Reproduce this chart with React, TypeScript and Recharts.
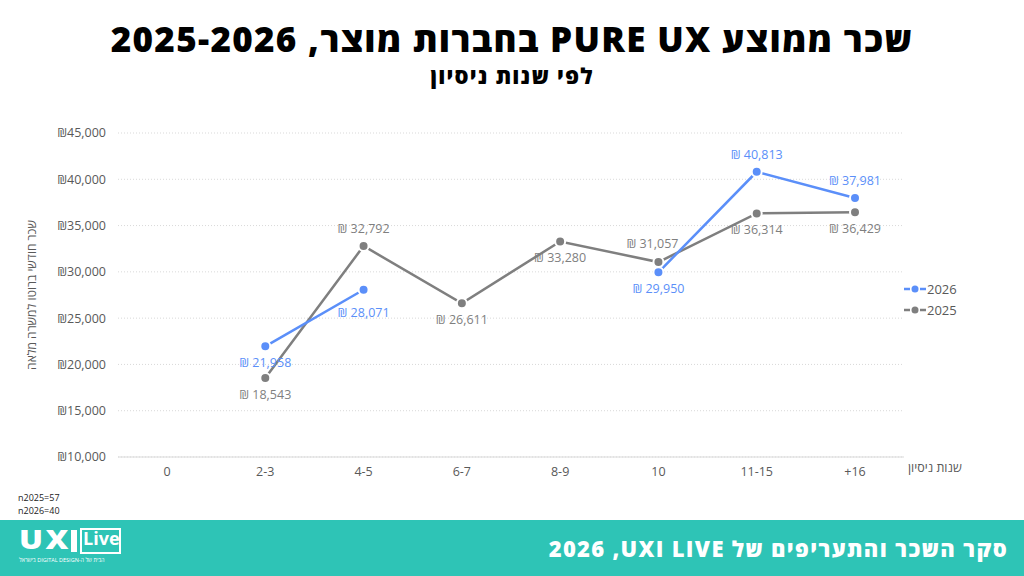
import React from "react";
import { LineChart, Line, XAxis, YAxis, CartesianGrid, Label } from "recharts";

const CATEGORIES = ["0", "2-3", "4-5", "6-7", "8-9", "10", "11-15", "+16"];
const SALARY_2026 = [null, 21958, 28071, null, null, 29950, 40813, 37981];
const SALARY_2025 = [null, 18543, 32792, 26611, 33280, 31057, 36314, 36429];
const Y_TICKS = [10000, 15000, 20000, 25000, 30000, 35000, 40000, 45000];
const SAMPLE_SIZES = ["n2025=57", "n2026=40"];

// where each value label sits relative to its point
const PLACE_2026 = ["", "below", "belowFar", "", "", "below", "above", "above"];
const PLACE_2025 = ["", "below", "above", "below", "below", "aboveLeft", "below", "below"];

const BLUE = "#5b8ff9";
const GRAY = "#7f7f7f";
const TEXT = "#595959";
const FONT = "'Open Sans', 'DejaVu Sans', sans-serif";

const OFFSETS: Record<string, [number, number]> = {
  below: [0, 21],
  belowFar: [0, 27],
  above: [0, -13],
  aboveLeft: [-6, -14],
};

const data = CATEGORIES.map((c, i) => ({
  cat: c,
  y2026: SALARY_2026[i],
  y2025: SALARY_2025[i],
}));

const fmtShekel = (v: number) => `₪ ${v.toLocaleString("en-US")}`;

const makeLabel = (places: string[], color: string) => (props: any) => {
  const { x, y, value, index } = props;
  if (value == null) return null;
  const [dx, dy] = OFFSETS[places[index]] || [0, -13];
  return (
    <text
      x={x + dx}
      y={y + dy}
      textAnchor="middle"
      fill={color}
      fontSize={12.5}
      fontFamily={FONT}
    >
      {fmtShekel(value)}
    </text>
  );
};

const LegendRow = ({ color, name }: { color: string; name: string }) => (
  <div style={{ display: "flex", alignItems: "center", height: 21 }}>
    <svg width={22} height={10}>
      <line x1={0} y1={5} x2={6} y2={5} stroke={color} strokeWidth={2.5} />
      <circle cx={11} cy={5} r={3.5} fill={color} />
      <line x1={16} y1={5} x2={22} y2={5} stroke={color} strokeWidth={2.5} />
    </svg>
    <span style={{ color: TEXT, fontSize: 13, marginLeft: 1 }}>{name}</span>
  </div>
);

export default function App() {
  return (
    <div
      style={{
        position: "absolute",
        left: 0,
        top: 0,
        width: 1024,
        height: 576,
        background: "#fff",
        fontFamily: FONT,
        overflow: "hidden",
      }}
    >
      <div
        dir="rtl"
        style={{
          position: "absolute",
          top: 15,
          width: 1024,
          textAlign: "center",
          fontSize: 35,
          fontWeight: 900,
          letterSpacing: 1.3,
          color: "#000",
          lineHeight: "48px",
        }}
      >
        שכר ממוצע PURE UX בחברות מוצר, 2025-2026
      </div>
      <div
        dir="rtl"
        style={{
          position: "absolute",
          top: 60,
          width: 1024,
          textAlign: "center",
          fontSize: 22,
          fontWeight: 800,
          letterSpacing: 1.2,
          color: "#000",
          lineHeight: "30px",
        }}
      >
        לפי שנות ניסיון
      </div>

      <div style={{ position: "absolute", left: 0, top: 0 }}>
        <LineChart
          width={1024}
          height={576}
          data={data}
          margin={{ top: 133, right: 120, bottom: 89, left: 0 }}
        >
          <CartesianGrid
            vertical={false}
            stroke="#d9d9d9"
            strokeDasharray="1 2"
          />
          <XAxis
            dataKey="cat"
            height={30}
            padding={{ left: 49, right: 49 }}
            tickLine={false}
            stroke="#d9d9d9"
            tick={{ fill: TEXT, fontSize: 12.5, fontFamily: FONT }}
            tickMargin={4}
          />
          <YAxis
            width={118}
            domain={[10000, 45000]}
            ticks={Y_TICKS}
            axisLine={false}
            tickLine={false}
            tickMargin={6}
            tickFormatter={(v: number) => `₪${v.toLocaleString("en-US")}`}
            tick={{ fill: TEXT, fontSize: 12.5, fontFamily: FONT }}
          >
            <Label
              value="שכר חודשי ברוטו למשרה מלאה"
              angle={-90}
              position="insideLeft"
              offset={32}
              style={{ fill: TEXT, fontSize: 12, fontFamily: FONT, textAnchor: "middle" }}
            />
          </YAxis>
          <Line
            dataKey="y2025"
            stroke={GRAY}
            strokeWidth={2.5}
            dot={{ r: 5, fill: GRAY, stroke: "#fff", strokeWidth: 2 }}
            activeDot={false}
            label={makeLabel(PLACE_2025, GRAY)}
            isAnimationActive={false}
          />
          <Line
            dataKey="y2026"
            stroke={BLUE}
            strokeWidth={2.5}
            dot={{ r: 5, fill: BLUE, stroke: "#fff", strokeWidth: 2 }}
            activeDot={false}
            label={makeLabel(PLACE_2026, BLUE)}
            isAnimationActive={false}
          />
        </LineChart>
      </div>

      <div
        dir="rtl"
        style={{
          position: "absolute",
          left: 908,
          top: 459,
          fontSize: 12.5,
          color: TEXT,
        }}
      >
        שנות ניסיון
      </div>

      <div style={{ position: "absolute", left: 904, top: 278 }}>
        <LegendRow color={BLUE} name="2026" />
        <LegendRow color={GRAY} name="2025" />
      </div>

      <div
        style={{
          position: "absolute",
          left: 18,
          top: 491,
          fontSize: 9,
          lineHeight: "13px",
          color: "#222",
        }}
      >
        {SAMPLE_SIZES.map((s) => (
          <div key={s}>{s}</div>
        ))}
      </div>

      <div
        style={{
          position: "absolute",
          left: 0,
          top: 520,
          width: 1024,
          height: 56,
          background: "#2ec4b6",
          color: "#fff",
        }}
      >
        {/* logo */}
        <span
          style={{
            position: "absolute",
            left: 19,
            top: 1,
            fontSize: 26,
            fontWeight: 900,
            letterSpacing: 2,
            transform: "scaleX(1.22)",
            transformOrigin: "left center",
          }}
        >
          UX
        </span>
        <div
          style={{
            position: "absolute",
            left: 71,
            top: 10,
            width: 6,
            height: 22,
            background: "#fff",
          }}
        />
        <div
          style={{
            position: "absolute",
            left: 80,
            top: 8,
            width: 37,
            height: 22,
            border: "2px solid #fff",
          }}
        />
        <span
          style={{
            position: "absolute",
            left: 83,
            top: 6,
            fontSize: 18,
            fontWeight: 700,
            lineHeight: "24px",
          }}
        >
          Live
        </span>
        <div
          dir="rtl"
          style={{
            position: "absolute",
            left: 19,
            top: 37,
            width: 104,
            fontSize: 5.5,
            lineHeight: "7px",
            whiteSpace: "nowrap",
            textAlign: "left",
          }}
        >
          הבית של ה-DIGITAL DESIGN בישראל
        </div>
        <div
          dir="rtl"
          style={{
            position: "absolute",
            right: 16,
            top: 13,
            fontSize: 22,
            fontWeight: 800,
            letterSpacing: 1.3,
            lineHeight: "30px",
            whiteSpace: "nowrap",
          }}
        >
          סקר השכר והתעריפים של <bdi>LIVE</bdi> <bdi>UXI</bdi>, <bdi>2026</bdi>
        </div>
      </div>
    </div>
  );
}
